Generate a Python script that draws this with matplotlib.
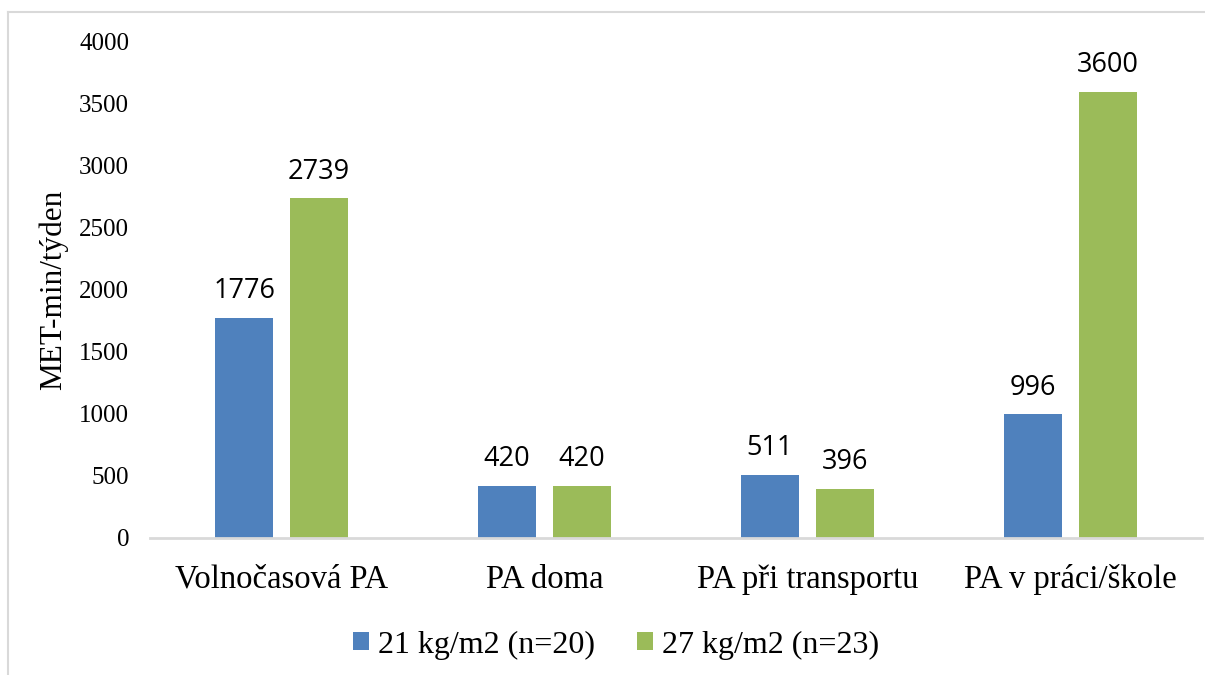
import matplotlib
matplotlib.use("Agg")
import matplotlib.pyplot as plt
import numpy as np
from matplotlib.lines import Line2D

categories = ["Volnočasová PA", "PA doma", "PA při transportu", "PA v práci/škole"]
series_names = ["21 kg/m2 (n=20)", "27 kg/m2 (n=23)"]
bmi21 = [1776, 420, 511, 996]
bmi27 = [2739, 420, 396, 3600]
yticks = [0, 500, 1000, 1500, 2000, 2500, 3000, 3500, 4000]

blue = "#4f81bd"
green = "#9bbb59"
serif = "Liberation Serif"
sans = "Open Sans"

fig = plt.figure(figsize=(12.05, 6.75), dpi=100)
ax = fig.add_axes([150 / 1205, 1 - 538 / 675, (1202 - 150) / 1205, (538 - 42) / 675])

x = np.arange(len(categories))
w = 0.224
off = (w + 0.061) / 2
b1 = ax.bar(x - off, bmi21, w, color=blue, label=series_names[0])
b2 = ax.bar(x + off, bmi27, w, color=green, label=series_names[1])

for bars, vals in ((b1, bmi21), (b2, bmi27)):
    for r, v in zip(bars, vals):
        ax.annotate(str(v), (r.get_x() + r.get_width() / 2, v),
                    xytext=(0, 14), textcoords="offset points",
                    ha="center", va="baseline", fontsize=19.5,
                    family=sans, color="black")

ax.set_xlim(-0.5, 3.5)
ax.set_ylim(0, 4000)
ax.set_yticks(yticks)
ax.set_yticklabels([str(t) for t in yticks], family=serif, fontsize=18)
ax.set_xticks(x)
ax.set_xticklabels(categories, family=serif, fontsize=23.5)
ax.tick_params(axis="y", length=0, pad=15)
ax.tick_params(axis="x", length=0, pad=19)

for s in ("top", "right", "left"):
    ax.spines[s].set_visible(False)
ax.spines["bottom"].set_color("#d9d9d9")
ax.spines["bottom"].set_linewidth(2)

ax.set_ylabel("MET-min/týden", family=serif, fontsize=22.5)
ax.yaxis.set_label_coords(-82 / 1052, 0.5)

fig.legend(handles=[b1, b2], labels=series_names, loc="center",
           bbox_to_anchor=(616 / 1205, 1 - 645 / 675), ncol=2, frameon=False,
           prop={"family": serif, "size": 23}, handlelength=0.5,
           handleheight=0.5, handletextpad=0.3, columnspacing=1.3)

# outer chart border (left and top edges)
bx, by = 8 / 1205, 1 - 12 / 675
for xs, ys in (([bx, bx], [0, by]), ([bx, 1], [by, by])):
    fig.add_artist(Line2D(xs, ys, transform=fig.transFigure,
                          color="#d9d9d9", linewidth=1.5))

fig.savefig("out.png", dpi=100, facecolor="white")
